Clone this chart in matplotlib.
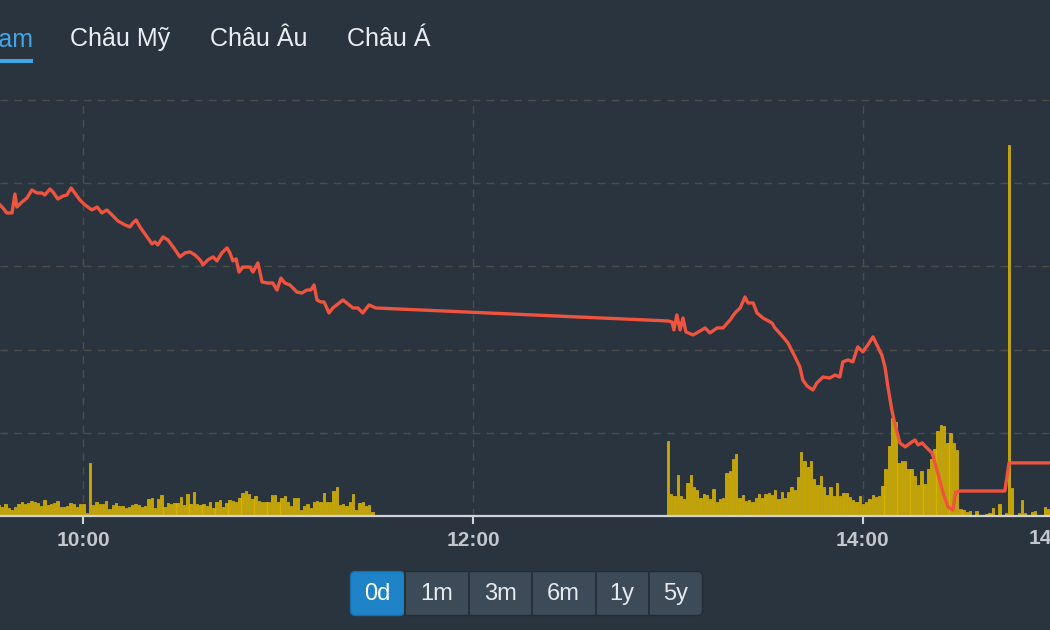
import matplotlib
matplotlib.use("Agg")
import matplotlib.pyplot as plt
from matplotlib.patches import FancyBboxPatch, Rectangle

plt.rcParams['font.family'] = ['Liberation Sans', 'DejaVu Sans']

# price line, time in minutes after 09:00
price_t = [34.3, 35.2, 36.4, 38.0, 38.9, 39.5, 41.1, 42.6, 44.1, 45.7, 47.2, 48.1, 49.7, 50.6, 52.1,
           53.7, 54.9, 56.2, 57.1, 58.9, 60.5, 62.6, 64.2, 65.7, 67.2, 68.8, 70.6, 72.8, 74.3, 75.2,
           76.2, 77.4, 79.6, 81.1, 82.0, 82.9, 84.5, 86.0, 87.6, 89.7, 91.3, 92.8, 94.3, 95.9, 96.8,
           98.3, 99.9, 101.1, 102.6, 104.2, 105.1, 106.0, 107.0, 107.9, 109.1, 111.3, 112.2, 113.7,
           115.0, 116.8, 118.3, 119.6, 120.8, 122.0, 123.6, 125.7, 127.3, 128.8, 130.0, 131.0, 131.9,
           133.1, 134.1, 135.6, 136.8, 139.9, 143.0, 144.5, 146.0, 147.9, 150.0,
           240.0, 241.2, 241.8, 242.7, 243.7, 244.6, 245.5, 247.7, 250.4, 251.4, 252.9, 255.1, 256.9,
           259.1, 260.6, 262.2, 263.7, 264.6, 266.2, 267.4, 269.2, 272.0, 272.9, 275.4, 276.9, 279.1,
           280.6, 281.5, 282.8, 284.6, 285.8, 287.7, 289.8, 291.4, 292.9, 293.8, 295.4, 296.9, 298.4,
           300.0, 301.5, 303.1, 304.6, 305.8, 306.8, 307.7, 308.9, 309.9, 311.4, 313.0, 315.1, 316.0,
           317.0, 318.2, 319.7, 321.3, 322.8, 324.7, 326.2, 327.7, 328.6, 330.0, 343.7, 345.0, 360.0]
price_v = [1193.69, 1193.51, 1193.21, 1193.21, 1194.35, 1193.57, 1193.87, 1194.11, 1194.59, 1194.41,
           1194.41, 1194.29, 1194.65, 1194.47, 1194.05, 1194.23, 1194.29, 1194.71, 1194.47, 1193.99,
           1193.69, 1193.39, 1193.57, 1193.21, 1193.39, 1193.09, 1192.73, 1192.49, 1192.37, 1192.61,
           1192.79, 1192.37, 1191.77, 1191.35, 1191.47, 1191.29, 1191.77, 1191.59, 1191.17, 1190.57,
           1190.81, 1190.87, 1190.69, 1190.39, 1190.09, 1190.39, 1190.57, 1190.33, 1190.81, 1191.11,
           1190.81, 1190.33, 1190.45, 1189.66, 1189.96, 1189.96, 1189.66, 1190.21, 1189.06, 1189.00,
           1189.00, 1188.58, 1189.30, 1189.00, 1188.88, 1188.46, 1188.40, 1188.58, 1188.58, 1188.88,
           1187.98, 1187.86, 1187.86, 1187.20, 1187.50, 1187.98, 1187.50, 1187.50, 1187.20, 1187.68,
           1187.50,
           1186.72, 1186.66, 1186.18, 1187.08, 1186.18, 1186.90, 1186.06, 1185.88, 1186.18, 1186.30,
           1186.00, 1186.30, 1186.30, 1186.78, 1187.20, 1187.50, 1188.16, 1187.80, 1187.80, 1187.20,
           1186.90, 1186.60, 1186.30, 1185.76, 1185.40, 1184.56, 1183.95, 1183.17, 1182.81, 1182.57,
           1182.99, 1183.35, 1183.29, 1183.47, 1183.35, 1184.26, 1184.38, 1184.26, 1185.16, 1184.86,
           1185.28, 1185.76, 1185.16, 1184.68, 1183.95, 1182.75, 1181.37, 1180.47, 1179.39, 1179.15,
           1179.45, 1179.57, 1179.27, 1179.39, 1179.09, 1178.79, 1177.76, 1176.38, 1175.54, 1175.36,
           1176.44, 1176.50, 1176.50, 1178.19, 1178.19]

# volume, one bar per minute
am_start = "09:34"
am_vol = [11, 9,
          12, 8, 6, 9, 12, 14, 12, 13, 15, 14, 13, 10, 16, 11, 12, 13, 15, 9, 9, 10,
          13, 12, 9, 12, 12, 3, 53, 11, 14, 12, 12, 15, 7, 11, 13, 10, 10, 8, 9, 11,
          12, 11, 9, 10, 17, 18, 8, 17, 21, 9, 13, 12, 13, 13, 19, 11, 22,
          12, 24, 12, 11, 12, 10, 14, 8, 14, 16, 9, 13, 16, 15, 14, 18, 23, 25, 22, 17,
          20, 15, 14, 14, 14, 21, 21, 14, 18, 20, 14, 10, 18, 18, 6, 10, 12, 8, 14, 15,
          14, 23, 14, 14, 25, 29, 11, 12, 10, 14, 22, 6, 13, 14, 10, 11, 4]
pm_start = "13:00"
pm_vol = [75, 22, 20, 41, 20, 17, 33, 41, 29, 26, 18, 22, 21, 17, 27, 14, 17, 18, 43, 45,
          57, 62, 18, 21, 15, 16, 14, 18, 22, 18, 22, 23, 21, 26, 17, 24, 18, 24, 29, 26,
          39, 64, 55, 49, 55, 37,
          31, 40, 29, 21, 29, 20, 33, 20, 23, 23, 19, 16, 14, 20, 12, 14, 17, 21, 19, 20,
          30, 47, 70, 98, 94, 53, 55, 55, 47, 47, 40, 31, 45, 32, 47, 57, 67, 85, 91, 90,
          73, 83, 73, 66,
          7, 6, 4, 5, 0, 5, 0, 1, 2, 3, 8, 0, 12, 0, 3, 371, 28, 0, 3, 16,
          3, 0, 4, 5, 1, 0, 9, 7]

tick_times = ["10:00", "12:00", "14:00"]
edge_label = "14:58"
tabs = ["Việt Nam", "Châu Mỹ", "Châu Âu", "Châu Á"]
ranges = ["0d", "1m", "3m", "6m", "1y", "5y"]

BG = '#29343f'
GRID = '#4d4c49'


def to_min(hhmm):
    h, m = hhmm.split(":")
    return (int(h) - 9) * 60 + int(m)


fig = plt.figure(figsize=(10.5, 6.3), dpi=100, facecolor=BG)

ax = fig.add_axes([0, 0.181, 1, 0.6603])
ax.set_facecolor(BG)
am_x = [to_min(am_start) + i for i in range(len(am_vol))]
pm_x = [to_min(pm_start) + i for i in range(len(pm_vol))]
ax.bar(am_x + pm_x, am_vol + pm_vol, width=0.72, color='#c5a300',
       edgecolor='#dcb90c', linewidth=0.5, zorder=2)
ax.set_ylim(0, 416)
ax.set_xlim(34.3, 357.6)

for t in tick_times:
    ax.axvline(to_min(t), color=GRID, lw=1.0, ls=(0, (5.5, 4.5)), zorder=1)

ax.set_xticks([to_min(t) for t in tick_times])
ax.set_xticklabels(tick_times)
ax.tick_params(axis='x', direction='out', length=6, width=1.5, color='#d0d4d8',
               labelcolor='#c3c7cb', labelsize=15, pad=5)
for lab in ax.get_xticklabels():
    lab.set_fontweight('bold')
ax.set_yticks([])
for side in ['top', 'left', 'right']:
    ax.spines[side].set_visible(False)
ax.spines['bottom'].set_color('#d0d4d8')
ax.spines['bottom'].set_linewidth(1.6)
ax.spines['bottom'].set_zorder(5)

# price on a twin axis so the line sits above the bars
ax2 = ax.twinx()
ax2.set_ylim(1175, 1200)
for lvl in [1180, 1185, 1190, 1195, 1200]:
    ax.axhline((lvl - 1175) / 25 * 416, color=GRID, lw=1.0, ls=(0, (5.5, 4.5)), zorder=1,
               clip_on=False)
ax2.plot(price_t, price_v, color='#f0533e', lw=2.4, solid_joinstyle='round')
ax2.set_yticks([])
for side in ['top', 'left', 'right', 'bottom']:
    ax2.spines[side].set_visible(False)

# overlay in pixel units for the page widgets
ov = fig.add_axes([0, 0, 1, 1], facecolor='none')
ov.set_xlim(0, 1050)
ov.set_ylim(630, 0)
ov.axis('off')

ov.text(33, 46, tabs[0], color='#3fa6ea', fontsize=18, ha='right', va='baseline')
ov.add_patch(Rectangle((0, 58.5), 33, 4.5, color='#3ea6ea', lw=0))
for name, x0 in zip(tabs[1:], [70, 210, 347]):
    ov.text(x0, 46, name, color='#eaeef1', fontsize=18, ha='left', va='baseline')

ov.text(1055, 539, edge_label, color='#c3c7cb', fontsize=15, fontweight='bold',
        ha='center', va='center')

edges = [350.5, 404.5, 468.5, 531.5, 595.5, 648.8, 702.5]
ov.add_patch(FancyBboxPatch((edges[0], 571.5), edges[-1] - edges[0], 44,
                            boxstyle="round,pad=0,rounding_size=5",
                            facecolor='#3d4a57', edgecolor='#232c35', lw=1.0))
ov.add_patch(FancyBboxPatch((edges[0], 571.5), edges[1] - edges[0], 44,
                            boxstyle="round,pad=0,rounding_size=5",
                            facecolor='#1f83c8', edgecolor='#1a6ea8', lw=1.0))
for e in edges[1:-1]:
    ov.plot([e, e], [572, 615], color='#26303a', lw=1.4)
for i, lab in enumerate(ranges):
    cx = (edges[i] + edges[i + 1]) / 2
    ov.text(cx, 594, lab, color='#ffffff' if i == 0 else '#e6eaed', fontsize=17,
            ha='center', va='center')

fig.savefig("out.png", dpi=100, facecolor=BG)
